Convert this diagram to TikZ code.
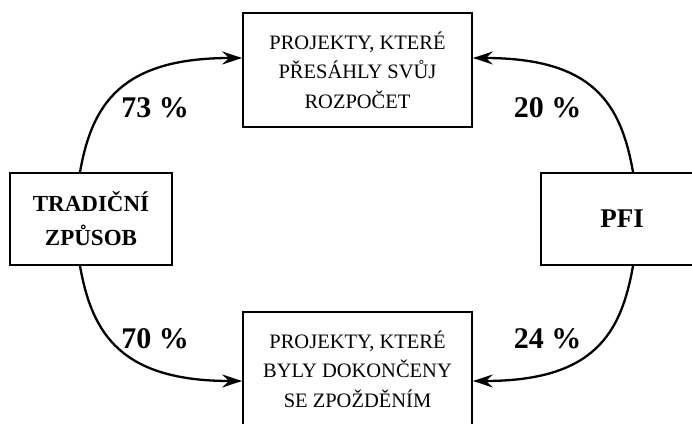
\documentclass[tikz,border=0pt]{standalone}
\usepackage{fontspec}
\setmainfont{Liberation Serif}
\usetikzlibrary{arrows.meta}
\begin{document}
\begin{tikzpicture}[x=1pt,y=1pt,
  boxtext/.style={draw=black,line width=1.8pt,align=center,inner sep=0pt,
    font=\fontsize{20.5}{29.5}\selectfont},
  sidebox/.style={draw=black,line width=1.8pt,align=center,inner sep=0pt,
    minimum width=162pt,minimum height=92pt},
  arr/.style={line width=2.3pt,-{Stealth[length=20pt,width=13pt,inset=7pt]}},
  pct/.style={anchor=base,font=\fontsize{30}{30}\selectfont\bfseries}]
\useasboundingbox (0,0) rectangle (692,423);
\clip (0,0) rectangle (692,423);
\node[boxtext,minimum width=229pt,minimum height=114pt] (top) at (357.5,353)
  {PROJEKTY, KTERÉ\\PŘESÁHLY SVŮJ\\ROZPOČET};
\node[boxtext,minimum width=229pt,minimum height=114pt] (bot) at (357.5,54)
  {PROJEKTY, KTERÉ\\BYLY DOKONČENY\\SE ZPOŽDĚNÍM};
\node[sidebox,font=\fontsize{23}{34}\selectfont\bfseries] (trad) at (91,204)
  {TRADIČNÍ\\ZPŮSOB};
\node[sidebox,font=\fontsize{27}{27}\selectfont\bfseries] (pfi) at (622,204) {PFI};
\draw[arr] ([xshift=-11pt]trad.north) .. controls +(12,68) and +(-121,0) .. ([yshift=12pt]top.west);
\draw[arr] ([xshift=11pt]pfi.north) .. controls +(-12,68) and +(121,0) .. ([yshift=12pt]top.east);
\draw[arr] ([xshift=-11pt]trad.south) .. controls +(12,-68) and +(-121,0) .. ([yshift=-12pt]bot.west);
\draw[arr] ([xshift=11pt]pfi.south) .. controls +(-12,-68) and +(121,0) .. ([yshift=-12pt]bot.east);
\node[pct] (l73) at (155,305) {73 \%};
\node[pct] (l20) at (547.5,305) {20 \%};
\node[pct] (l70) at (155,75) {70 \%};
\node[pct] (l24) at (547.5,75) {24 \%};
\end{tikzpicture}
\end{document}
